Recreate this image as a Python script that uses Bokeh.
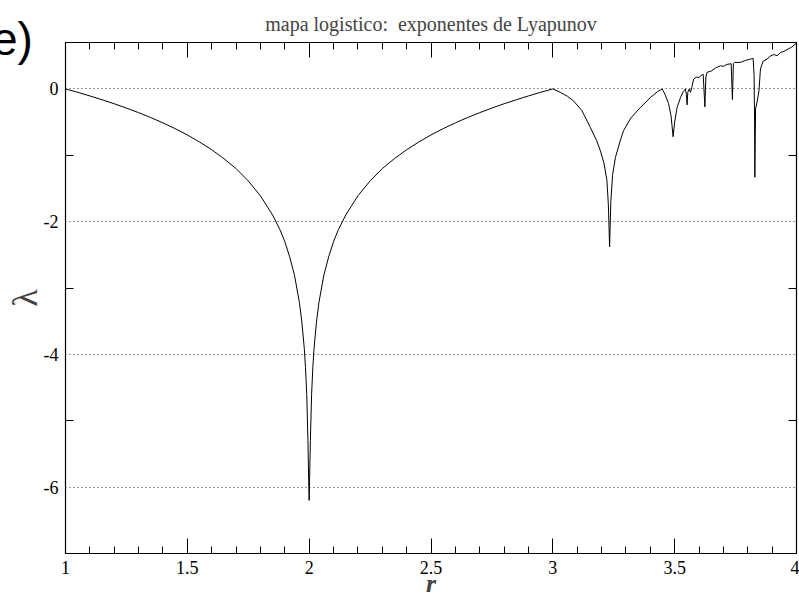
from bokeh.plotting import figure
from bokeh.models import LinearAxis, FixedTicker, Div
from bokeh.layouts import column
from bokeh.embed import file_html
from bokeh.resources import INLINE

# Lyapunov exponent of the logistic map
r_vals = [
    1.00, 1.05, 1.10, 1.15, 1.20, 1.25, 1.30, 1.35, 1.40, 1.45,
    1.50, 1.55, 1.60, 1.65, 1.70, 1.75, 1.80, 1.85, 1.88, 1.90,
    1.92, 1.94, 1.96, 1.97, 1.98, 1.985, 1.99, 1.995, 1.998, 2.000,
    2.002, 2.005, 2.01, 2.015, 2.02, 2.03, 2.04, 2.06, 2.08, 2.10,
    2.12, 2.15, 2.20, 2.25, 2.30, 2.35, 2.40, 2.45, 2.50, 2.55,
    2.60, 2.65, 2.70, 2.75, 2.80, 2.85, 2.90, 2.95, 3.00,
    3.03, 3.06, 3.085, 3.12, 3.154, 3.18, 3.195, 3.21, 3.222, 3.228,
    3.233, 3.238, 3.245, 3.257, 3.275, 3.29, 3.32, 3.359, 3.40, 3.43,
    3.449, 3.46, 3.475, 3.485, 3.4936, 3.50, 3.51, 3.524, 3.535, 3.544,
    3.548, 3.551, 3.554, 3.56, 3.565, 3.57, 3.578, 3.59, 3.60, 3.61,
    3.617, 3.624, 3.628, 3.633, 3.65, 3.67, 3.688, 3.70, 3.715, 3.732,
    3.737, 3.741, 3.746, 3.77, 3.79, 3.811, 3.822, 3.826, 3.828, 3.829,
    3.832, 3.838, 3.846, 3.852, 3.863, 3.88, 3.89, 3.907, 3.92, 3.935,
    3.95, 3.965, 3.98, 4.00,
]
lyap_vals = [
    0.00, -0.05, -0.105, -0.163, -0.223, -0.288, -0.357, -0.431, -0.511, -0.598,
    -0.693, -0.799, -0.916, -1.05, -1.20, -1.386, -1.61, -1.90, -2.12, -2.30,
    -2.53, -2.81, -3.22, -3.51, -3.91, -4.20, -4.60, -5.30, -5.90, -6.20,
    -5.85, -5.30, -4.60, -4.20, -3.91, -3.51, -3.22, -2.81, -2.53, -2.30,
    -2.12, -1.90, -1.61, -1.386, -1.20, -1.05, -0.916, -0.799, -0.693, -0.598,
    -0.511, -0.431, -0.357, -0.288, -0.223, -0.163, -0.105, -0.05, 0.00,
    -0.05, -0.11, -0.18, -0.33, -0.58, -0.78, -0.93, -1.12, -1.38, -1.75,
    -2.38, -1.70, -1.30, -1.03, -0.80, -0.63, -0.44, -0.28, -0.13, -0.04,
    0.00, -0.08, -0.22, -0.40, -0.72, -0.50, -0.28, -0.13, -0.04, 0.00,
    -0.08, -0.24, -0.05, 0.00, -0.05, 0.02, 0.15, 0.18, 0.17, 0.21,
    0.22, -0.27, 0.18, 0.25, 0.27, 0.32, 0.35, 0.34, 0.37, 0.38,
    -0.16, 0.38, 0.40, 0.40, 0.43, 0.45, 0.46, 0.20, -0.50, -1.33,
    -0.30, -0.20, -0.03, 0.30, 0.42, 0.45, 0.49, 0.52, 0.50, 0.55,
    0.57, 0.60, 0.63, 0.69,
]

x_major = [1, 1.5, 2, 2.5, 3, 3.5, 4]
x_minor = [1.1, 1.2, 1.3, 1.4, 1.6, 1.7, 1.8, 1.9, 2.1, 2.2, 2.3, 2.4,
           2.6, 2.7, 2.8, 2.9, 3.1, 3.2, 3.3, 3.4, 3.6, 3.7, 3.8, 3.9]
x_labels = {1: "1", 1.5: "1.5", 2: "2", 2.5: "2.5", 3: "3", 3.5: "3.5", 4: "4"}
y_major = [0, -2, -4, -6]
y_minor = [-1, -3, -5]
y_labels = {0: "0", -2: "-2", -4: "-4", -6: "-6"}

title_text = "mapa logistico:\u00a0 exponentes de Lyapunov"
panel_tag = "e)"

SERIF = "Liberation Serif"

p = figure(width=799, height=600, x_range=(1, 4), y_range=(-7, 0.7),
           output_backend="svg", toolbar_location=None,
           min_border_left=65, min_border_right=3,
           min_border_top=42, min_border_bottom=47,
           x_axis_label="r", y_axis_label="λ")

p.title.text = title_text
p.title.align = "center"
p.title.text_font = SERIF
p.title.text_font_size = "20px"
p.title.text_font_style = "normal"
p.title.standoff = 16

p.outline_line_color = "black"
p.outline_line_width = 1.2
p.xgrid.visible = False
p.ygrid.ticker = FixedTicker(ticks=y_major)
p.ygrid.grid_line_color = "#333333"
p.ygrid.grid_line_dash = "1 3"
p.ygrid.grid_line_width = 1

# bottom axis
xa = p.xaxis[0]
xa.ticker = FixedTicker(ticks=x_major, minor_ticks=x_minor)
xa.major_tick_in = 15
xa.major_tick_out = 0
xa.minor_tick_in = 7
xa.minor_tick_out = 0
xa.major_label_overrides = x_labels
xa.major_label_text_font = SERIF
xa.major_label_text_font_size = "18px"
xa.major_label_standoff = 7
xa.major_label_text_color = "black"
xa.axis_label_text_font = SERIF
xa.axis_label_text_font_style = "bold italic"
xa.axis_label_text_font_size = "26px"
xa.axis_label_standoff = -8

# left axis
ya = p.yaxis[0]
ya.ticker = FixedTicker(ticks=y_major, minor_ticks=y_minor)
ya.major_tick_in = 0
ya.major_tick_out = 0
ya.minor_tick_in = 8
ya.minor_tick_out = 0
ya.major_label_overrides = y_labels
ya.major_label_text_font = SERIF
ya.major_label_text_font_size = "18px"
ya.major_label_standoff = 7
ya.major_label_text_color = "black"
ya.axis_label_text_font = SERIF
ya.axis_label_text_font_style = "normal"
ya.axis_label_text_font_size = "36px"
ya.axis_label_standoff = -4

def tick_only_axis(minor, length):
    ax = LinearAxis(ticker=FixedTicker(ticks=[], minor_ticks=minor))
    ax.major_tick_in = 0
    ax.major_tick_out = 0
    ax.minor_tick_in = length
    ax.minor_tick_out = 0
    ax.major_label_standoff = 0
    ax.axis_line_color = "black"
    ax.minor_tick_line_color = "black"
    return ax

p.add_layout(tick_only_axis(x_minor, 7), "above")
p.add_layout(tick_only_axis(x_major, 15), "above")
p.add_layout(tick_only_axis(y_minor, 8), "right")

p.line(r_vals, lyap_vals, line_color="black", line_width=1)

tag = Div(text=panel_tag, width=1, height=0,
          styles={"position": "absolute", "left": "-13px", "top": "11px",
                  "z-index": "10", "overflow": "visible",
                  "font-family": "'Liberation Sans', Arial, sans-serif",
                  "font-size": "46px", "line-height": "46px",
                  "color": "black", "white-space": "nowrap"})

layout = column(p, tag)
open("out.html", "w").write(file_html(layout, INLINE))
